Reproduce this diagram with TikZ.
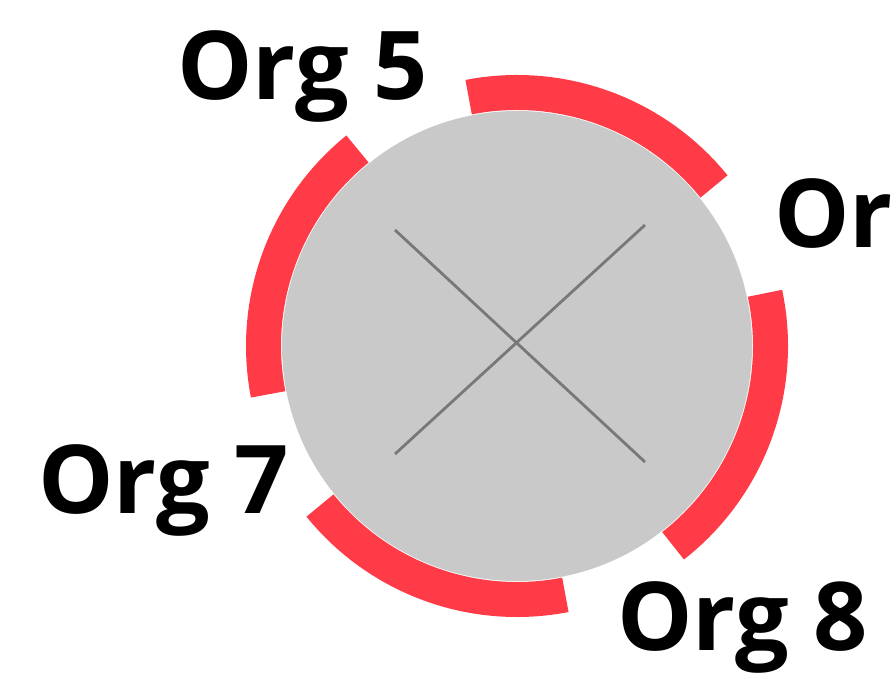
\documentclass[tikz,border=0pt]{standalone}
\usepackage{fontspec}
\setmainfont{Open Sans}
\definecolor{ringred}{HTML}{FF3B47}
\definecolor{discgray}{HTML}{C9C9C9}
\definecolor{crossgray}{HTML}{787878}
\tikzset{
  ringarc/.style={draw=ringred, line width=35pt, line cap=butt},
  disc/.style={circle, fill=discgray, minimum size=470pt, inner sep=0pt},
  crossline/.style={draw=crossgray, line width=2.8pt},
  orglabel/.style={anchor=base west, inner sep=0pt, font=\fontsize{95}{95}\selectfont\bfseries, text=black}
}
\begin{document}
\begin{tikzpicture}[x=1pt,y=1pt]
\useasboundingbox (0,0) rectangle (896,678);
\clip (0,0) rectangle (896,678);
\fill[white] (0,0) rectangle (896,678);
\coordinate (c) at (517,332);
% red ring segments
\draw[ringarc] ([shift={(39:253.5)}]c) arc[start angle=39, end angle=101, radius=253.5];
\draw[ringarc] ([shift={(129:253.5)}]c) arc[start angle=129, end angle=191, radius=253.5];
\draw[ringarc] ([shift={(219:253.5)}]c) arc[start angle=219, end angle=281, radius=253.5];
\draw[ringarc] ([shift={(-52:253.5)}]c) arc[start angle=-52, end angle=12, radius=253.5];
% disc
\node[disc] (d) at (c) {};
% cross
\coordinate (tl) at (395,448);
\coordinate (br) at (645,216);
\coordinate (tr) at (645,453);
\coordinate (bl) at (395,224);
\draw[crossline] (tl) -- (br);
\draw[crossline] (tr) -- (bl);
% labels
\node[orglabel] (o5) at (177,578) {Org 5};
\node[orglabel] (o6) at (774,430) {Or};
\node[orglabel] (o7) at (38,165) {Org 7};
\node[orglabel] (o8) at (617,28) {Org 8};
\end{tikzpicture}
\end{document}
